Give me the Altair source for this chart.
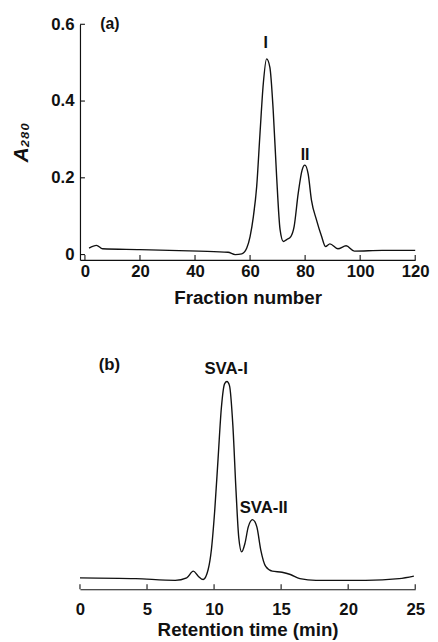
import altair as alt
import pandas as pd

# Panel (a): fraction number vs A280
frac_x = [1.5, 4.2, 6.4, 20, 41.4, 52, 54.6, 57, 58.8, 60, 61.2, 62.4, 63.6, 64.8, 66, 67.2,
          68.4, 69.6, 70.9, 72.1, 73.3, 74.8, 76, 77.5, 78.9, 79.9, 81.1, 82.3, 84.1, 86,
          87.4, 89, 91.9, 94.9, 97.9, 108, 120]
frac_y = [0.017, 0.024, 0.015, 0.013, 0.009, 0.006, 0.0, 0.002, 0.017, 0.047, 0.099, 0.177,
          0.315, 0.445, 0.51, 0.488, 0.376, 0.21, 0.065, 0.034, 0.039, 0.047, 0.073, 0.16,
          0.22, 0.233, 0.21, 0.142, 0.091, 0.047, 0.021, 0.028, 0.015, 0.023, 0.009, 0.011, 0.011]
a_ticks_x = [0, 20, 40, 60, 80, 100, 120]
a_ticks_y = [0, 0.2, 0.4, 0.6]
a_lab_x = [65.7, 80, 9.1]
a_lab_y = [0.55, 0.26, 0.6]
a_lab_t = ["I", "II", "(a)"]

# Panel (b): retention time
ret_x = [0, 4.16, 7.1, 7.96, 8.45, 8.82, 9.19, 9.56, 9.8, 10.05, 10.3, 10.54, 10.79, 10.96,
         11.15, 11.4, 11.64, 11.84, 12.06, 12.3, 12.55, 12.87, 13.19, 13.48, 13.85, 14.34,
         15.07, 15.69, 16.4, 17.6, 21.3, 23.8, 24.9]
ret_y = [0.055, 0.051, 0.043, 0.055, 0.087, 0.063, 0.047, 0.095, 0.19, 0.38, 0.63, 0.87,
         0.99, 1.0, 0.98, 0.79, 0.47, 0.25, 0.18, 0.22, 0.30, 0.335, 0.30, 0.19, 0.11, 0.087,
         0.082, 0.071, 0.051, 0.043, 0.043, 0.051, 0.063]
b_ticks_x = [0, 5, 10, 15, 20, 25]
b_lab_x = [10.9, 13.7, 2.2]
b_lab_y = [1.06, 0.39, 1.08]
b_lab_t = ["SVA-I", "SVA-II", "(b)"]

FONT = "Liberation Sans"
INK = "#111111"

# ---------- panel a ----------
def ax_scale():
    return alt.Scale(domain=[-1.8, 120], nice=False, zero=False)

def ay_scale():
    return alt.Scale(domain=[-0.014, 0.6], nice=False, zero=False)

a_xaxis = alt.Axis(values=a_ticks_x, ticks=False, grid=False, title="Fraction number",
                   labelFontSize=17, titleFontSize=19, labelPadding=4, titlePadding=9,
                   labelFlush=False, domainColor=INK, domainWidth=1.2)
a_yaxis = alt.Axis(values=a_ticks_y, ticks=False, grid=False, title="A₂₈₀", format=".1~f",
                   labelFontSize=17, titleFontSize=21, titleFontStyle="italic",
                   labelPadding=6, titlePadding=20, labelFlush=False,
                   domainColor=INK, domainWidth=1.2)

a_line = alt.Chart(pd.DataFrame({"x": frac_x, "y": frac_y})).mark_line(
    color=INK, strokeWidth=1.4, interpolate="monotone"
).encode(x=alt.X("x:Q", scale=ax_scale(), axis=a_xaxis),
         y=alt.Y("y:Q", scale=ay_scale(), axis=a_yaxis))

a_xt = alt.Chart(pd.DataFrame({"v": a_ticks_x})).mark_rule(color=INK, strokeWidth=1.1).encode(
    x=alt.X("v:Q", scale=ax_scale()), y=alt.datum(-0.014), y2=alt.datum(-0.001))
a_yt = alt.Chart(pd.DataFrame({"v": a_ticks_y})).mark_rule(color=INK, strokeWidth=1.1).encode(
    y=alt.Y("v:Q", scale=ay_scale()), x=alt.datum(-1.8), x2=alt.datum(0))
a_txt = alt.Chart(pd.DataFrame({"x": a_lab_x, "y": a_lab_y, "t": a_lab_t})).mark_text(
    font=FONT, fontWeight="bold", fontSize=16, color=INK, baseline="middle"
).encode(x=alt.X("x:Q", scale=ax_scale()), y=alt.Y("y:Q", scale=ay_scale()), text="t:N")

panel_a = alt.layer(a_line, a_xt, a_yt, a_txt).properties(width=340, height=239)

# ---------- panel b ----------
def bx_scale():
    return alt.Scale(domain=[0, 25], nice=False, zero=False)

def by_scale():
    return alt.Scale(domain=[0, 1.12], nice=False, zero=False)

b_xaxis = alt.Axis(values=b_ticks_x, ticks=False, grid=False, title="Retention time (min)",
                   labelFontSize=17, titleFontSize=19, labelPadding=13, titlePadding=3,
                   labelFlush=False, domainColor=INK, domainWidth=1.2)

b_line = alt.Chart(pd.DataFrame({"x": ret_x, "y": ret_y})).mark_line(
    color=INK, strokeWidth=1.4, interpolate="monotone"
).encode(x=alt.X("x:Q", scale=bx_scale(), axis=b_xaxis),
         y=alt.Y("y:Q", scale=by_scale(), axis=None))
b_xt = alt.Chart(pd.DataFrame({"v": b_ticks_x})).mark_rule(color=INK, strokeWidth=1.1).encode(
    x=alt.X("v:Q", scale=bx_scale()), y=alt.datum(0), y2=alt.datum(0.024))
b_txt = alt.Chart(pd.DataFrame({"x": b_lab_x, "y": b_lab_y, "t": b_lab_t})).mark_text(
    font=FONT, fontWeight="bold", fontSize=17, color=INK, baseline="middle"
).encode(x=alt.X("x:Q", scale=bx_scale()), y=alt.Y("y:Q", scale=by_scale()), text="t:N")

panel_b = alt.layer(b_line, b_xt, b_txt).properties(width=340, height=236)

chart = alt.vconcat(panel_a, panel_b, spacing=49).properties(
    padding={"left": 2, "top": 3, "right": 0, "bottom": 0}
).configure_view(stroke=None).configure_axis(
    labelFont=FONT, titleFont=FONT, labelFontWeight="bold", titleFontWeight="bold",
    labelColor=INK, titleColor=INK
)

chart.save("out.html", embed_options={"renderer": "svg", "actions": False})
